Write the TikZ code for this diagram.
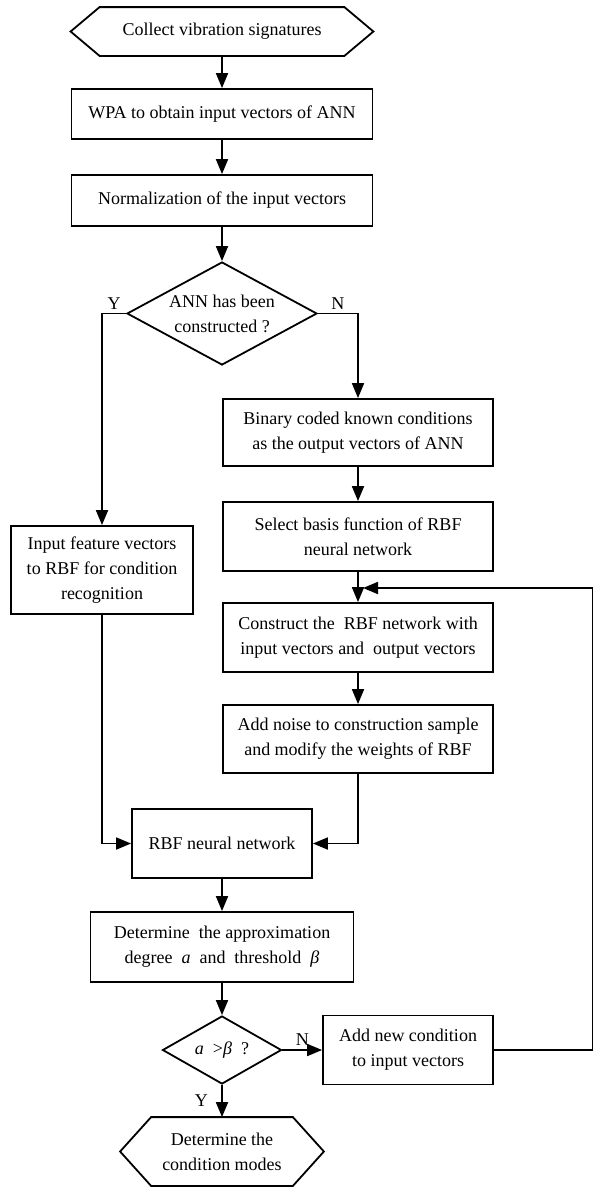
\documentclass[tikz,border=0pt]{standalone}
\usepackage{fontspec}
\setmainfont{Liberation Serif}
\usetikzlibrary{positioning,arrows.meta,shapes.geometric}

\begin{document}
\begin{tikzpicture}[x=1pt, y=-1pt, line width=1.8pt, every node/.style={font=\fontsize{18}{25}\selectfont}]
\tikzstyle{box}=[draw, rectangle, align=center, inner sep=4pt]
\tikzstyle{dec}=[draw, diamond, align=center, inner sep=0pt]
\tikzstyle{term}=[align=center, inner sep=0pt]
\tikzstyle{arr}=[-{Triangle[length=15pt,width=12pt]}]
\useasboundingbox (0,0) rectangle (594,1187);
\node[term, minimum width=301pt, minimum height=47pt] (start) at (222,31.5) {Collect vibration signatures};
\draw (start.west) -- ([xshift=29pt]start.north west) -- ([xshift=-29pt]start.north east) -- (start.east) -- ([xshift=-29pt]start.south east) -- ([xshift=29pt]start.south west) -- cycle;
\node[box, minimum width=301pt, minimum height=50pt] (wpa) at (222,114) {WPA to obtain input vectors of ANN};
\node[box, minimum width=301pt, minimum height=51pt] (norm) at (222,200.5) {Normalization of the input vectors};
\node[dec, minimum width=190pt, minimum height=103pt, aspect=1.84] (built) at (222,313.5) {ANN has been\\constructed ?};
\node[box, minimum width=270pt, minimum height=67pt] (code) at (358,432.5) {Binary coded known conditions\\as the output vectors of ANN};
\node[box, minimum width=270pt, minimum height=69pt] (basis) at (358,536.5) {Select basis function of RBF\\neural network};
\node[box, minimum width=182pt, minimum height=88pt] (feat) at (102,570) {Input feature vectors\\to RBF for condition\\recognition};
\node[box, minimum width=270pt, minimum height=69pt] (cons) at (358,637.5) {Construct the~ RBF network with\\input vectors and~ output vectors};
\node[box, minimum width=270pt, minimum height=68pt] (noise) at (358,739) {Add noise to construction sample\\and modify the weights of RBF};
\node[box, minimum width=180pt, minimum height=69pt] (rbf) at (222,843.5) {RBF neural network};
\node[box, minimum width=263pt, minimum height=70pt] (thr) at (222,947) {Determine~ the approximation\\degree~ \textit{a}~ and~ threshold~ \textit{β}};
\node[dec, minimum width=119pt, minimum height=68pt, aspect=1.75] (cmp) at (222,1050) {\textit{a}~ >\textit{β}~ ?};
\node[box, minimum width=170pt, minimum height=69pt] (add) at (408,1050) {Add new condition\\to input vectors};
\node[term, minimum width=202pt, minimum height=67pt] (stop) at (222,1151.5) {Determine the\\condition modes};
\draw (stop.west) -- ([xshift=31pt]stop.north west) -- ([xshift=-31pt]stop.north east) -- (stop.east) -- ([xshift=-31pt]stop.south east) -- ([xshift=31pt]stop.south west) -- cycle;
\coordinate (loop) at (592.5,588);
\coordinate (join) at (363,588);
\draw[arr] (start) -- (wpa);
\draw[arr] (wpa) -- (norm);
\draw[arr] (norm) -- (built);
\draw[arr] (built.west) -| node[pos=0.25, above]{Y} (feat.north);
\draw[arr] (built.east) -| node[pos=0.25, above]{N} (code.north);
\draw[arr] (code) -- (basis);
\draw[arr] (basis) -- (cons);
\draw[arr] (cons) -- (noise);
\draw[arr] (feat.south) |- (rbf.west);
\draw[arr] (noise.south) |- (rbf.east);
\draw[arr] (rbf) -- (thr);
\draw[arr] (thr) -- (cmp);
\draw[arr] (cmp) -- node[above]{N} (add);
\draw[arr] (cmp) -- node[left=10pt]{Y} (stop);
\draw[arr] (add.east) -| (loop) -- (join);
\end{tikzpicture}
\end{document}
